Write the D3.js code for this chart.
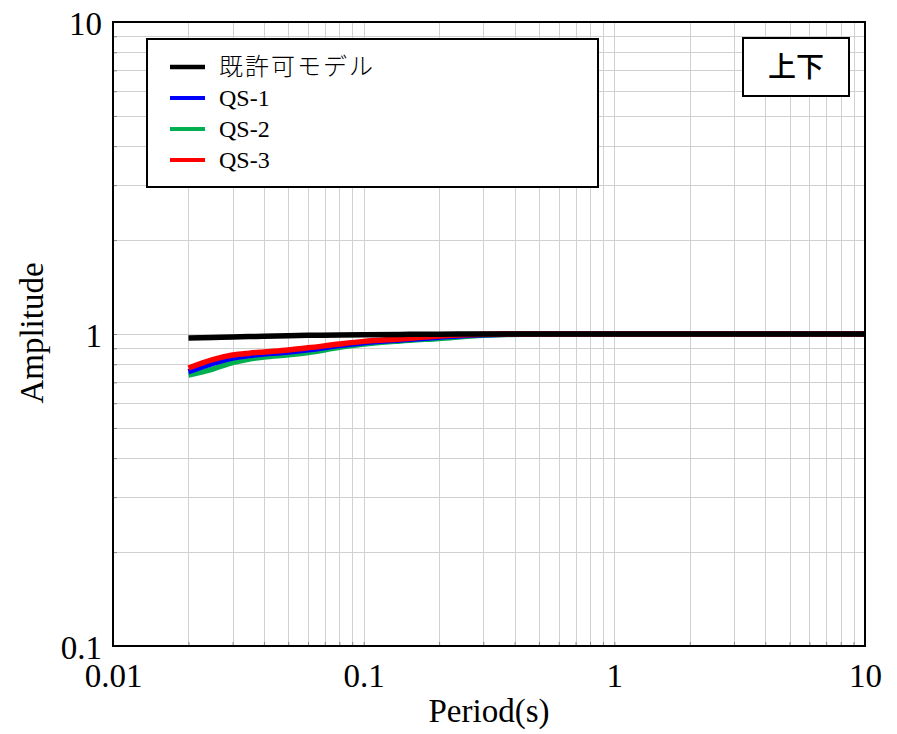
<!DOCTYPE html>
<html><head><meta charset="utf-8">
<script src="https://cdn.jsdelivr.net/npm/d3@7/dist/d3.min.js"></script>
<style>body{margin:0;background:#fff}</style>
</head><body><svg id="c" width="897" height="734"></svg>
<script>
const periods    = [0.02, 0.025, 0.03, 0.035, 0.04, 0.05, 0.06, 0.08, 0.1, 0.14, 0.2, 0.3, 0.5, 1, 2, 5, 10];
const modelValues = [0.971, 0.975, 0.978, 0.981, 0.983, 0.987, 0.990, 0.993, 0.995, 0.997, 0.999, 1.0, 1.0, 1.0, 1.0, 1.0, 1.0];
const qs1Values   = [0.757, 0.805, 0.838, 0.853, 0.863, 0.876, 0.890, 0.918, 0.938, 0.957, 0.977, 0.995, 1.0, 1.0, 1.0, 1.0, 1.0];
const qs2Values   = [0.739, 0.772, 0.810, 0.832, 0.844, 0.858, 0.872, 0.906, 0.928, 0.950, 0.968, 0.990, 1.0, 1.0, 1.0, 1.0, 1.0];
const qs3Values   = [0.778, 0.828, 0.856, 0.868, 0.876, 0.889, 0.903, 0.929, 0.947, 0.964, 0.985, 0.998, 1.0, 1.0, 1.0, 1.0, 1.0];
const seriesNames  = ["既許可モデル", "QS-1", "QS-2", "QS-3"];
const seriesColors = ["#000000", "#0000ff", "#00b050", "#ff0000"];
const xTickValues = [0.01, 0.1, 1, 10];
const xTickLabels = ["0.01", "0.1", "1", "10"];
const yTickValues = [0.1, 1, 10];
const yTickLabels = ["0.1", "1", "10"];
const xTitle = "Period(s)";
const yTitle = "Amplitude";
const componentLabel = "上下";

const L = 113, R = 865, T = 22, B = 646;
const svg = d3.select("#c");
const x = d3.scaleLog().domain([0.01, 10]).range([L, R]);
const y = d3.scaleLog().domain([0.1, 10]).range([B, T]);

// grid
const grid = svg.append("g").attr("stroke", "#d0d0d0").attr("stroke-width", 1);
grid.selectAll(".vx").data(x.ticks()).join("line")
  .attr("x1", d => Math.round(x(d)) + 0.5).attr("x2", d => Math.round(x(d)) + 0.5)
  .attr("y1", T).attr("y2", B);
grid.selectAll(".hy").data(y.ticks()).join("line")
  .attr("y1", d => Math.round(y(d)) + 0.5).attr("y2", d => Math.round(y(d)) + 0.5)
  .attr("x1", L).attr("x2", R);

// minor inner ticks
const minorB = svg.append("g").attr("transform", `translate(0,${B})`)
  .call(d3.axisBottom(x).tickValues(x.ticks()).tickSizeInner(-4).tickSizeOuter(0).tickFormat(""));
const minorL = svg.append("g").attr("transform", `translate(${L},0)`)
  .call(d3.axisLeft(y).tickValues(y.ticks()).tickSizeInner(-4).tickSizeOuter(0).tickFormat(""));
[minorB, minorL].forEach(g => { g.select(".domain").remove(); g.selectAll("line").attr("stroke", "#888"); });

// axes labels
const fontSerif = "'Liberation Serif','Times New Roman',serif";
const xa = svg.append("g").attr("transform", `translate(0,${B})`)
  .call(d3.axisBottom(x).tickValues(xTickValues).tickFormat((d, i) => xTickLabels[i]).tickSize(0));
xa.select(".domain").remove();
xa.selectAll("text").attr("y", 41).attr("dy", 0).attr("font-family", fontSerif).attr("font-size", 33).attr("fill", "#000");

const ya = svg.append("g").attr("transform", `translate(${L},0)`)
  .call(d3.axisLeft(y).tickValues(yTickValues).tickFormat((d, i) => yTickLabels[i]).tickSize(0));
ya.select(".domain").remove();
ya.selectAll("text").attr("x", -11).attr("dy", 12).attr("font-family", fontSerif).attr("font-size", 33).attr("fill", "#000");

svg.append("text").attr("x", (L + R) / 2 + 0).attr("y", 722).attr("text-anchor", "middle")
  .attr("font-family", fontSerif).attr("font-size", 33).text(xTitle);
svg.append("text").attr("transform", "translate(43,333) rotate(-90)").attr("text-anchor", "middle")
  .attr("font-family", fontSerif).attr("font-size", 33).text(yTitle);

// series
const allValues = [modelValues, qs1Values, qs2Values, qs3Values];
const line = d3.line().x(d => x(d[0])).y(d => y(d[1])).curve(d3.curveMonotoneX);
const drawOrder = [2, 1, 3, 0];
const clip = svg.append("clipPath").attr("id", "clp").append("rect")
  .attr("x", L).attr("y", T).attr("width", R - L).attr("height", B - T);
const lines = svg.append("g").attr("clip-path", "url(#clp)");
drawOrder.forEach(i => {
  lines.append("path").datum(periods.map((p, k) => [p, allValues[i][k]]))
    .attr("d", line).attr("fill", "none").attr("stroke", seriesColors[i])
    .attr("stroke-width", 5.5).attr("stroke-linejoin", "round");
});

// frame
svg.append("rect").attr("x", L).attr("y", T).attr("width", R - L).attr("height", B - T)
  .attr("fill", "none").attr("stroke", "#000").attr("stroke-width", 2);

// legend
const lg = svg.append("g");
lg.append("rect").attr("x", 147).attr("y", 39).attr("width", 451).attr("height", 148)
  .attr("fill", "#fff").attr("stroke", "#000").attr("stroke-width", 2);
seriesNames.forEach((n, i) => {
  const yy = 67 + i * 31;
  lg.append("line").attr("x1", 170).attr("x2", 205).attr("y1", yy).attr("y2", yy)
    .attr("stroke", seriesColors[i]).attr("stroke-width", i === 0 ? 4.5 : 4);
  lg.append("text").attr("x", 219).attr("y", yy + 8)
    .attr("font-family", i === 0 ? "'Noto Sans CJK JP',sans-serif" : fontSerif)
    .attr("font-weight", i === 0 ? 300 : 400)
    .attr("letter-spacing", i === 0 ? 2 : 0)
    .attr("font-size", 24).text(n);
});

// component label box
svg.append("rect").attr("x", 743).attr("y", 38).attr("width", 106).attr("height", 58)
  .attr("fill", "#fff").attr("stroke", "#000").attr("stroke-width", 2);
svg.append("text").attr("x", 796).attr("y", 77).attr("text-anchor", "middle")
  .attr("font-family", "'Noto Sans CJK JP',sans-serif").attr("font-weight", 500)
  .attr("font-size", 28).text(componentLabel);
</script></body></html>
